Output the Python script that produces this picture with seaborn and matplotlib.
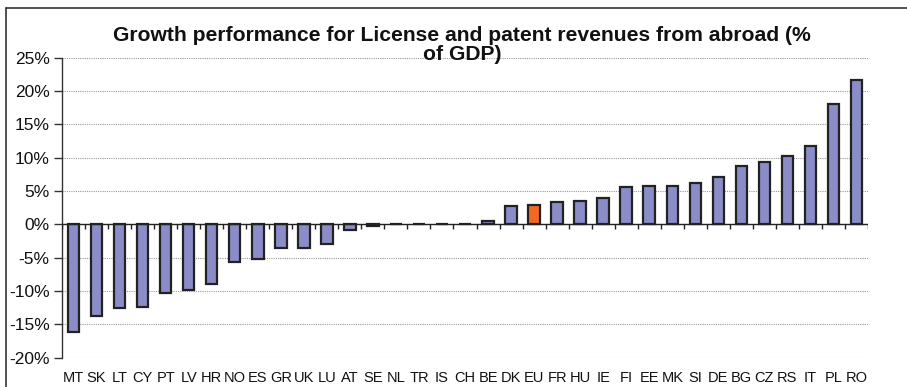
import numpy as np
import matplotlib
matplotlib.use("Agg")
import matplotlib.pyplot as plt
from matplotlib.lines import Line2D
from matplotlib.ticker import FuncFormatter
import seaborn as sns

countries = ["MT", "SK", "LT", "CY", "PT", "LV", "HR", "NO", "ES", "GR", "UK", "LU",
             "AT", "SE", "NL", "TR", "IS", "CH", "BE", "DK", "EU", "FR", "HU", "IE",
             "FI", "EE", "MK", "SI", "DE", "BG", "CZ", "RS", "IT", "PL", "RO"]
growth = [-16.2, -13.7, -12.5, -12.4, -10.3, -9.8, -9.0, -5.6, -5.2, -3.6, -3.6, -2.9,
          -0.8, -0.2, 0.0, 0.0, 0.0, 0.0, 0.5, 2.7, 2.9, 3.3, 3.5, 4.0,
          5.6, 5.7, 5.8, 6.2, 7.1, 8.8, 9.4, 10.2, 11.8, 18.0, 21.6]
highlight = "EU"

title = "Growth performance for License and patent revenues from abroad (%\nof GDP)"

sns.set_theme(style="white")
plt.rcParams["font.family"] = ["Liberation Sans", "DejaVu Sans"]

bar_color = "#8a8dc8"
eu_color = "#f26a22"
palette = {c: (eu_color if c == highlight else bar_color) for c in countries}

fig = plt.figure(figsize=(9.07, 3.87), dpi=100)
ax = fig.add_axes([62 / 907, 1 - 357.6 / 387, 806 / 907, 300 / 387])

sns.barplot(x=countries, y=growth, hue=countries, palette=palette, legend=False,
            saturation=1, width=0.5, edgecolor="#222222", linewidth=1.6, ax=ax, zorder=3)

ax.set_ylim(-20, 25)
ax.set_xlim(-0.5, len(countries) - 0.5)
ax.set_yticks(np.arange(-20, 26, 5))
ax.yaxis.set_major_formatter(FuncFormatter(lambda v, _: f"{v:.0f}%"))
ax.yaxis.grid(True, linestyle=(0, (1, 1)), color="#9a9a9a", linewidth=0.8)
ax.set_axisbelow(True)

for side in ["top", "right", "bottom"]:
    ax.spines[side].set_visible(False)
ax.spines["left"].set_color("#333333")
ax.spines["left"].set_linewidth(1.0)

ax.tick_params(axis="y", which="major", left=True, length=6, width=1, color="#333333",
               labelsize=12.5, pad=3, labelcolor="#111111")
ax.tick_params(axis="x", bottom=False, labelsize=10.5, pad=3.5, labelcolor="#111111")
ax.set_xlabel("")
ax.set_ylabel("")

# zero axis with category separator ticks
ax.axhline(0, color="#222222", linewidth=1.0, zorder=4)
ax.vlines(np.arange(-0.5, len(countries)), -0.7, 0, color="#222222", linewidth=1.0, zorder=4)

fig.text(462 / 907, 1 - 45 / 387, title, ha="center", va="center", fontsize=15.2,
         fontweight="bold", color="#111111", linespacing=1.0)

# outer chart frame
fx, fy = 6 / 907, 1 - 8 / 387
fig.add_artist(Line2D([fx, 1.0], [fy, fy], color="#333333", linewidth=1.2))
fig.add_artist(Line2D([fx, fx], [fy, 0.0], color="#333333", linewidth=1.2))

fig.savefig("out.png", dpi=100)
